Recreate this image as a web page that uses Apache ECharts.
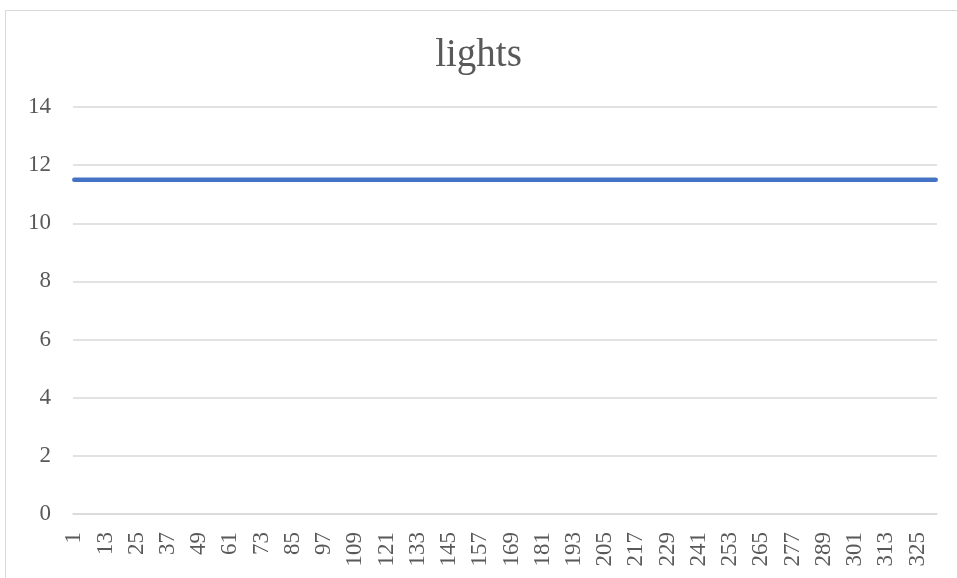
<!DOCTYPE html>
<html>
<head>
<meta charset="utf-8">
<script src="https://cdn.jsdelivr.net/npm/echarts@6/dist/echarts.min.js"></script>
<style>
html,body{margin:0;padding:0;background:#fff;}
#chart{width:957px;height:578px;}
</style>
</head>
<body>
<div id="chart"></div>
<script>
var title = "lights";
var yTicks = [0, 2, 4, 6, 8, 10, 12, 14];
var lights = [
11.5,11.5,11.5,11.5,11.5,11.5,11.5,11.5,11.5,11.5,11.5,11.5,11.5,11.5,11.5,11.5,11.5,11.5,11.5,11.5,
11.5,11.5,11.5,11.5,11.5,11.5,11.5,11.5,11.5,11.5,11.5,11.5,11.5,11.5,11.5,11.5,11.5,11.5,11.5,11.5,
11.5,11.5,11.5,11.5,11.5,11.5,11.5,11.5,11.5,11.5,11.5,11.5,11.5,11.5,11.5,11.5,11.5,11.5,11.5,11.5,
11.5,11.5,11.5,11.5,11.5,11.5,11.5,11.5,11.5,11.5,11.5,11.5,11.5,11.5,11.5,11.5,11.5,11.5,11.5,11.5,
11.5,11.5,11.5,11.5,11.5,11.5,11.5,11.5,11.5,11.5,11.5,11.5,11.5,11.5,11.5,11.5,11.5,11.5,11.5,11.5,
11.5,11.5,11.5,11.5,11.5,11.5,11.5,11.5,11.5,11.5,11.5,11.5,11.5,11.5,11.5,11.5,11.5,11.5,11.5,11.5,
11.5,11.5,11.5,11.5,11.5,11.5,11.5,11.5,11.5,11.5,11.5,11.5,11.5,11.5,11.5,11.5,11.5,11.5,11.5,11.5,
11.5,11.5,11.5,11.5,11.5,11.5,11.5,11.5,11.5,11.5,11.5,11.5,11.5,11.5,11.5,11.5,11.5,11.5,11.5,11.5,
11.5,11.5,11.5,11.5,11.5,11.5,11.5,11.5,11.5,11.5,11.5,11.5,11.5,11.5,11.5,11.5,11.5,11.5,11.5,11.5,
11.5,11.5,11.5,11.5,11.5,11.5,11.5,11.5,11.5,11.5,11.5,11.5,11.5,11.5,11.5,11.5,11.5,11.5,11.5,11.5,
11.5,11.5,11.5,11.5,11.5,11.5,11.5,11.5,11.5,11.5,11.5,11.5,11.5,11.5,11.5,11.5,11.5,11.5,11.5,11.5,
11.5,11.5,11.5,11.5,11.5,11.5,11.5,11.5,11.5,11.5,11.5,11.5,11.5,11.5,11.5,11.5,11.5,11.5,11.5,11.5,
11.5,11.5,11.5,11.5,11.5,11.5,11.5,11.5,11.5,11.5,11.5,11.5,11.5,11.5,11.5,11.5,11.5,11.5,11.5,11.5,
11.5,11.5,11.5,11.5,11.5,11.5,11.5,11.5,11.5,11.5,11.5,11.5,11.5,11.5,11.5,11.5,11.5,11.5,11.5,11.5,
11.5,11.5,11.5,11.5,11.5,11.5,11.5,11.5,11.5,11.5,11.5,11.5,11.5,11.5,11.5,11.5,11.5,11.5,11.5,11.5,
11.5,11.5,11.5,11.5,11.5,11.5,11.5,11.5,11.5,11.5,11.5,11.5,11.5,11.5,11.5,11.5,11.5,11.5,11.5,11.5,
11.5,11.5,11.5,11.5,11.5,11.5,11.5,11.5,11.5,11.5,11.5,11.5
];
var categories = [];
for (var i = 1; i <= lights.length; i++) categories.push(String(i));

var chart = echarts.init(document.getElementById('chart'));
var font = '"Liberation Serif", "DejaVu Serif", serif';
chart.setOption({
  animation: false,
  backgroundColor: '#ffffff',
  graphic: [{
    type: 'rect',
    shape: { x: 5.5, y: 10.5, width: 1000, height: 700 },
    style: { fill: 'none', stroke: '#d9d9d9', lineWidth: 1 },
    silent: true
  }],
  title: {
    text: title,
    left: 'center',
    top: 31,
    textStyle: { fontFamily: font, fontSize: 39, fontWeight: 'normal', color: '#595959' }
  },
  grid: { left: 73, right: 20, top: 107, bottom: 64, containLabel: false },
  xAxis: {
    type: 'category',
    data: categories,
    boundaryGap: true,
    axisLine: { show: true, lineStyle: { color: '#d9d9d9', width: 1.5 } },
    axisTick: { show: false },
    axisLabel: {
      interval: 11,
      rotate: 90,
      margin: 18,
      color: '#595959',
      fontFamily: font,
      fontSize: 23
    },
    splitLine: { show: false }
  },
  yAxis: {
    type: 'value',
    min: yTicks[0],
    max: yTicks[yTicks.length - 1],
    interval: 2,
    axisLine: { show: false },
    axisTick: { show: false },
    axisLabel: { color: '#595959', fontFamily: font, fontSize: 23, margin: 22 },
    splitLine: { lineStyle: { color: '#d9d9d9', width: 1.5 } }
  },
  series: [{
    type: 'line',
    data: lights,
    showSymbol: false,
    symbol: 'none',
    lineStyle: { color: '#4472c4', width: 4.5, cap: 'round' },
    itemStyle: { color: '#4472c4' }
  }]
});
</script>
</body>
</html>
